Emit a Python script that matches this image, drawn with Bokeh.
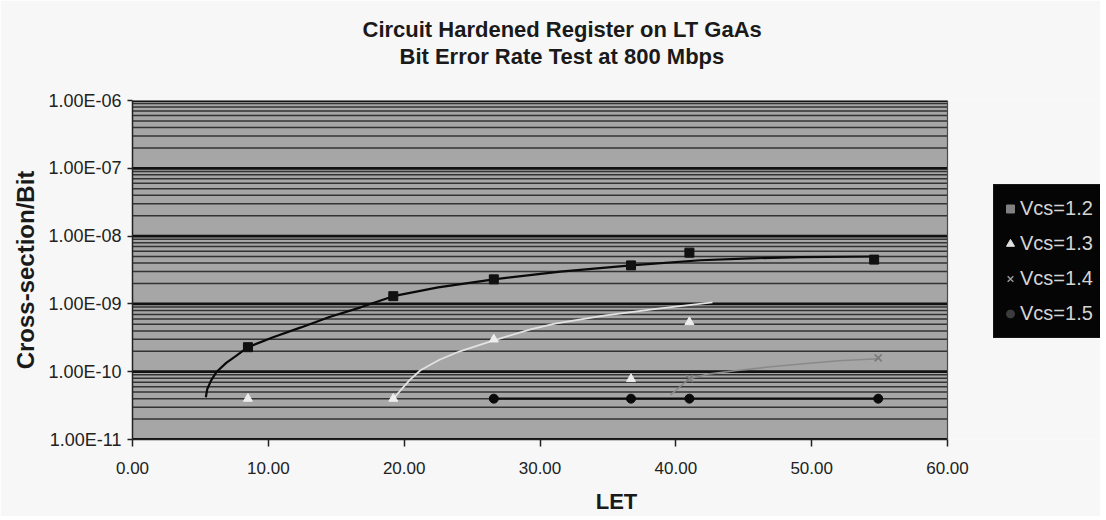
from bokeh.plotting import figure
from bokeh.models import (FixedTicker, NumeralTickFormatter, Legend, LegendItem, Title,
                          BoxAnnotation, Span, Range1d)
from bokeh.embed import file_html
from bokeh.resources import INLINE

# ---------------- data ----------------
title_line1 = "Circuit Hardened Register on LT GaAs"
title_line2 = "Bit Error Rate Test at 800 Mbps"
x_label = "LET"
y_label = "Cross-section/Bit"

x_ticks = [0, 10, 20, 30, 40, 50, 60]
y_ticks = [1e-11, 1e-10, 1e-9, 1e-8, 1e-7, 1e-6]
y_tick_labels = ["1.00E-11", "1.00E-10", "1.00E-09", "1.00E-08", "1.00E-07", "1.00E-06"]

series_names = ["Vcs=1.2", "Vcs=1.3", "Vcs=1.4", "Vcs=1.5"]

# Vcs=1.2 (squares)
let_12 = [8.5, 19.2, 26.6, 36.7, 41.0, 54.6]
xs_12 = [2.3e-10, 1.3e-9, 2.3e-9, 3.7e-9, 5.7e-9, 4.5e-9]
# Vcs=1.3 (triangles)
let_13 = [8.5, 19.2, 26.6, 36.7, 41.0]
xs_13 = [4.0e-11, 4.0e-11, 3.0e-10, 7.8e-11, 5.4e-10]
# Vcs=1.4 (crosses)
let_14 = [41.0, 54.9]
xs_14 = [7.9e-11, 1.6e-10]
# Vcs=1.5 (circles)
let_15 = [26.6, 36.7, 41.0, 54.9]
xs_15 = [4.0e-11, 4.0e-11, 4.0e-11, 4.0e-11]

# trend lines
trend_x_12 = [5.4, 5.5, 5.8, 6.2, 6.9, 7.6, 8.5, 10.3, 12.4, 14.5, 16.8, 19.2, 22.5, 26.6, 31.5, 36.7, 41.8, 45.5, 49.2, 54.6]
trend_y_12 = [4.2e-11, 5.5e-11, 7.5e-11, 1.0e-10, 1.35e-10, 1.7e-10, 2.3e-10, 3.2e-10, 4.5e-10, 6.4e-10, 8.9e-10, 1.3e-9, 1.75e-9, 2.3e-9, 3.0e-9, 3.7e-9, 4.4e-9, 4.7e-9, 4.9e-9, 5.0e-9]
trend_x_13 = [19.2, 19.7, 20.4, 21.2, 22.6, 24.1, 26.6, 29.3, 31.1, 34.7, 38.7, 42.7]
trend_y_13 = [4.0e-11, 5.2e-11, 7.5e-11, 1.05e-10, 1.5e-10, 2.0e-10, 2.9e-10, 4.2e-10, 5.1e-10, 6.7e-10, 8.5e-10, 1.05e-9]
trend_x_14 = [39.6, 40.3, 41.0, 42.5, 44.5, 47.0, 49.2, 52.0, 54.9]
trend_y_14 = [4.5e-11, 6.0e-11, 7.9e-11, 9.3e-11, 1.04e-10, 1.18e-10, 1.3e-10, 1.45e-10, 1.55e-10]

x_min, x_max = 0, 60
y_min, y_max = 1e-11, 1e-6

# ---------------- layout ----------------
FONT = "Liberation Sans"
W, H = 1100, 516
LEFT, TOP, BOTTOM = 132, 100, 77
DATA_W = 815                     # pixel width of the 0..60 plot area
FRAME_W = W - LEFT               # frame also holds the legend on its right
x_end = x_min + (x_max - x_min) * FRAME_W / DATA_W

p = figure(width=W, height=H, x_range=Range1d(x_min, x_end), y_range=Range1d(y_min, y_max),
           y_axis_type="log", output_backend="svg", toolbar_location=None,
           min_border_left=LEFT, min_border_right=0, min_border_top=TOP,
           min_border_bottom=BOTTOM)

p.background_fill_color = "#f7f7f7"
p.border_fill_color = "#f7f7f7"
p.outline_line_color = None

# grey plot area limited to the data range
p.add_layout(BoxAnnotation(left=x_min, right=x_max, fill_color="#a6a6a6", fill_alpha=1.0,
                           line_color=None, level="underlay"))

# titles (spacer first, nearest to the frame)
spacer = Title(text=" ", text_font_size="10px", standoff=19)
t2 = Title(text=title_line2, align="left", offset=267, text_font=FONT,
           text_font_size="22px", text_font_style="bold", text_color="#1a1a1a",
           standoff=0)
t1 = Title(text=title_line1, align="left", offset=230, text_font=FONT,
           text_font_size="22px", text_font_style="bold", text_color="#1a1a1a",
           standoff=0)
p.add_layout(spacer, "above")
p.add_layout(t2, "above")
p.add_layout(t1, "above")

# axes
minor_y = [k * 10.0 ** e for e in range(-11, -6) for k in range(2, 10)]
p.yaxis.ticker = FixedTicker(ticks=y_ticks, minor_ticks=[])
p.yaxis.major_label_overrides = {t: lab for t, lab in zip(y_ticks, y_tick_labels)}
p.xaxis.ticker = FixedTicker(ticks=x_ticks)
p.xaxis.formatter = NumeralTickFormatter(format="0.00")
p.xaxis.bounds = (x_min, x_max)

for ax in (p.xaxis, p.yaxis):
    ax.axis_line_color = "#222222"
    ax.axis_line_width = 1.5
    ax.major_tick_line_color = "#222222"
    ax.major_tick_line_width = 1.5
    ax.major_tick_in = 0
    ax.minor_tick_line_color = None
    ax.major_label_text_font = FONT
    ax.major_label_text_color = "#222222"
    ax.axis_label_text_font = FONT
    ax.axis_label_text_font_style = "bold"
    ax.axis_label_text_color = "#1a1a1a"

p.xaxis.major_label_text_font_size = "17px"
p.yaxis.major_label_text_font_size = "18px"
p.xaxis.major_tick_out = 7
p.yaxis.major_tick_out = 5
p.xaxis.major_label_standoff = 15
p.yaxis.major_label_standoff = 6
p.xaxis.axis_label = x_label
p.yaxis.axis_label = y_label
p.xaxis.axis_label_text_font_size = "22px"
p.yaxis.axis_label_text_font_size = "24px"
p.xaxis.axis_label_standoff = 12
p.yaxis.axis_label_standoff = 6

# horizontal grid lines, only across the data range
p.xgrid.grid_line_color = None
p.ygrid.grid_line_color = None
p.segment(x0=[x_min] * len(minor_y), x1=[x_max] * len(minor_y), y0=minor_y, y1=minor_y,
          line_color="#333333", line_width=1.5)
p.segment(x0=[x_min] * len(y_ticks), x1=[x_max] * len(y_ticks), y0=y_ticks, y1=y_ticks,
          line_color="#111111", line_width=2.8)
p.add_layout(Span(location=x_max, dimension="height", line_color="#4a4a4a", line_width=1.2))

# trend lines
p.line(trend_x_12, trend_y_12, line_color="#0a0a0a", line_width=2.2)
p.line(trend_x_13, trend_y_13, line_color="#e2e2e2", line_width=1.8)
p.line(trend_x_14, trend_y_14, line_color="#8a8a8a", line_width=1.6)
p.line(let_15, xs_15, line_color="#0a0a0a", line_width=2.2)

# markers
p.scatter(let_12, xs_12, marker="square", size=9, fill_color="#111111", line_color="#111111")
p.scatter(let_13, xs_13, marker="triangle", size=9, fill_color="#eeeeee", line_color="#eeeeee")
p.scatter(let_14, xs_14, marker="x", size=10, line_color="#7a7a7a", line_width=1.6)
p.scatter(let_15, xs_15, marker="circle", size=9, fill_color="#0a0a0a", line_color="#0a0a0a")

# legend key renderers (same series, hidden, styled like the reference legend keys)
lg_12 = p.scatter(let_12, xs_12, marker="square", size=8, fill_color="#808080", line_color="#808080", visible=False)
lg_13 = p.scatter(let_13, xs_13, marker="triangle", size=10, fill_color="#e0e0e0", line_color="#e0e0e0", visible=False)
lg_14 = p.scatter(let_14, xs_14, marker="x", size=8, line_color="#9a9a9a", line_width=1.5, visible=False)
lg_15 = p.scatter(let_15, xs_15, marker="circle", size=8, fill_color="#3c3c3c", line_color="#3c3c3c", visible=False)

legend = Legend(items=[LegendItem(label=n, renderers=[r]) for n, r in
                       zip(series_names, [lg_12, lg_13, lg_14, lg_15])],
                location=(861, 101), orientation="vertical")
legend.background_fill_color = "#050505"
legend.background_fill_alpha = 1.0
legend.border_line_color = "#2a2a2a"
legend.label_text_color = "#d4d4d4"
legend.label_text_font = FONT
legend.label_text_font_size = "20px"
legend.glyph_width = 20
legend.glyph_height = 35
legend.label_height = 35
legend.label_width = 78
legend.label_standoff = 0
legend.spacing = 0
legend.padding = 6
legend.margin = 0
legend.inactive_fill_alpha = 0.0
legend.click_policy = "none"
p.add_layout(legend, "center")

open("out.html", "w").write(file_html(p, INLINE))
